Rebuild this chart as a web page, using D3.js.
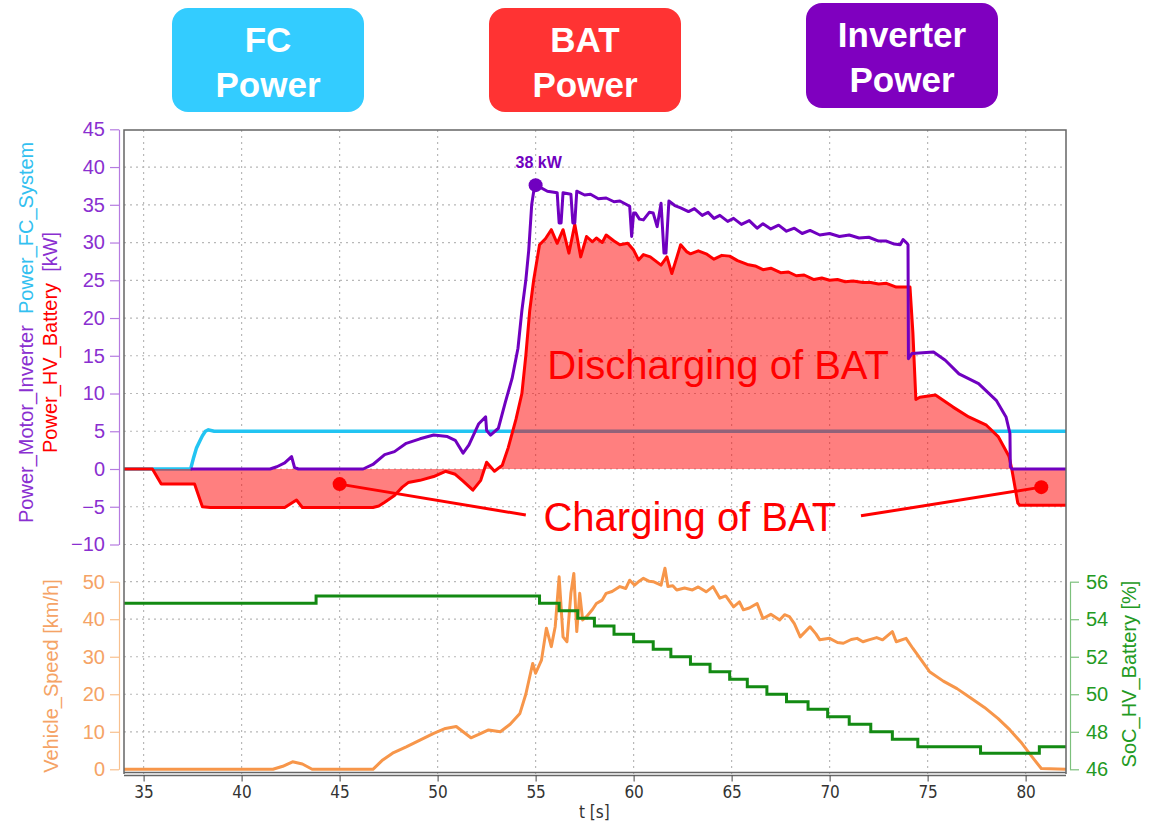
<!DOCTYPE html>
<html>
<head>
<meta charset="utf-8">
<script src="https://cdn.jsdelivr.net/npm/d3@7/dist/d3.min.js"></script>
<style>
  body { margin: 0; background: #fff; }
  svg { font-family: "Liberation Sans", Arial, sans-serif; }
</style>
</head>
<body>
<svg id="chart"></svg>
<script>
// ---- data ----
const timeTicks  = [35, 40, 45, 50, 55, 60, 65, 70, 75, 80];
const powerTicks = [-10, -5, 0, 5, 10, 15, 20, 25, 30, 35, 40, 45];
const speedTicks = [0, 10, 20, 30, 40, 50];
const socTicks   = [46, 48, 50, 52, 54, 56];

// [t (s), kW]
const fcSystem = [[34,0],[37.4,0],[37.55,1.5],[37.7,2.8],[37.85,3.6],[38.0,4.4],[38.15,5.0],[38.3,5.2],[38.6,5.0],[82.06,5.0]];

const hvBattery = [[34,0],[35.45,0],[35.9,-2],[37.6,-2],[38.0,-5],[38.4,-5.1],[42.2,-5.1],[42.5,-4.6],[42.8,-4.1],[43.1,-5.1],
  [46.7,-5.1],[47.0,-4.9],[47.3,-4.4],[47.8,-3.5],[48.2,-2.4],[48.5,-1.8],[49.1,-1.5],[49.8,-1.0],[50.4,-0.3],[50.9,-0.7],
  [51.3,-1.6],[51.8,-2.8],[52.2,-1.5],[52.5,0.9],[52.9,-0.3],[53.3,0.5],[53.6,2.8],[54.0,6.6],[54.3,10],[54.5,15],[54.7,21],
  [54.9,25],[55.2,29.7],[55.5,30.5],[55.8,31.7],[56.1,29.9],[56.4,31.7],[56.7,28.6],[57.0,32.4],[57.3,28.1],[57.6,30.8],
  [57.9,30.1],[58.1,30.6],[58.4,30.0],[58.6,31.0],[59.0,30.2],[59.3,29.7],[59.7,29.9],[60.0,29.0],[60.25,27.7],[60.5,28.4],
  [60.85,28.1],[61.1,27.6],[61.4,27.0],[61.7,28.1],[61.95,25.9],[62.2,28.0],[62.4,29.7],[62.7,28.8],[62.9,28.5],[63.3,28.9],
  [63.7,28.5],[64.1,27.8],[64.5,28.3],[64.9,28.2],[65.3,27.6],[65.8,27.1],[66.2,26.9],[66.6,26.4],[67.0,26.6],[67.5,26.0],
  [67.9,26.1],[68.3,25.6],[68.7,25.7],[69.2,25.1],[69.6,25.3],[70.0,25.0],[70.4,25.1],[70.8,24.8],[71.2,24.9],[71.7,24.7],
  [72.1,24.7],[72.5,24.5],[72.9,24.6],[73.4,24.1],[74.1,24.1],[74.25,18],[74.4,9.2],[74.6,9.5],[75.4,9.8],
  [76.3,8.2],[77.1,6.9],[78.0,5.8],[78.6,4.3],[79.15,1.7],[79.3,-0.1],[79.6,-4.5],[79.7,-4.8],[82.06,-4.8]];

const motorInverter = [[37.4,0],[41.45,0],[41.8,0.3],[42.2,0.8],[42.55,1.65],[42.7,0.2],[42.9,0],[46.2,0],[46.7,0.6],
  [47.3,1.9],[47.8,2.3],[48.4,3.4],[49.1,4.0],[49.8,4.5],[50.5,4.3],[50.9,3.8],[51.3,2.1],[51.6,3.2],[52.1,6.0],[52.45,6.9],
  [52.5,5.1],[52.7,4.5],[53.1,5.4],[53.45,8.8],[53.8,12],[54.1,16],[54.3,21],[54.5,25],[54.65,29],[54.8,35],[54.95,37.6],
  [55.1,37.5],[55.6,36.8],[56.1,36.6],[56.2,32.6],[56.3,32.6],[56.4,36.6],[56.8,36.4],[56.9,32.6],[57.0,32.6],[57.1,36.8],
  [57.5,36.3],[57.8,36.4],[58.2,35.8],[58.6,35.9],[59.0,35.4],[59.3,35.5],[59.8,34.8],[59.9,30.8],[60.0,33.9],[60.1,33.9],
  [60.3,33.1],[60.5,33.0],[60.8,34.0],[61.0,33.9],[61.2,32.1],[61.4,35.2],[61.55,28.6],[61.65,28.6],[61.8,35.5],
  [62.1,34.9],[62.4,34.6],[62.8,34.1],[63.1,34.5],[63.5,33.6],[63.8,34.0],[64.1,33.2],[64.4,33.6],[64.8,32.8],[65.1,33.2],
  [65.5,32.4],[65.9,32.9],[66.3,31.9],[66.6,32.5],[67.0,31.8],[67.4,32.3],[67.8,31.5],[68.2,31.9],[68.6,31.2],[69.0,31.6],
  [69.5,31.0],[70.0,31.2],[70.5,30.8],[71.0,31.0],[71.5,30.6],[72.0,30.7],[72.5,30.2],[72.9,30.2],[73.3,29.8],[73.6,29.7],
  [73.75,30.4],[73.95,29.9],[74.0,29.7],[74.02,14.6],[74.2,15.3],[75.3,15.5],[75.9,14.4],[76.6,12.6],[77.6,11.3],[78.5,9.1],
  [79.0,6.9],[79.2,4.7],[79.22,0.3],[79.3,0],[82.06,0]];

// [t (s), km/h]
const vehicleSpeed = [[34,0],[41.6,0],[42.1,0.8],[42.6,2.0],[43.1,1.4],[43.6,0],[46.7,0],[47.2,2.5],[47.7,4.3],[48.4,6.0],
  [49.1,7.8],[49.8,9.6],[50.4,10.9],[50.95,11.4],[51.3,10.0],[51.7,8.4],[52.1,9.3],[52.6,10.5],[53.2,10.0],[53.7,12.0],
  [54.2,14.9],[54.5,20.0],[54.85,28.2],[55.0,25.6],[55.3,29.1],[55.55,37.6],[55.8,32.7],[56.0,38.0],[56.2,51.3],[56.4,35.3],
  [56.6,34.0],[56.8,46.9],[56.95,52.2],[57.1,36.7],[57.25,46.9],[57.4,39.8],[57.6,40.7],[57.9,42.6],[58.1,44.2],[58.4,45.1],
  [58.6,46.9],[58.9,47.4],[59.3,48.7],[59.6,48.2],[59.8,50.4],[60.05,49.1],[60.3,50.2],[60.5,50.9],[60.8,50.1],[61.0,50.0],
  [61.4,49.1],[61.6,53.6],[61.75,48.7],[62.0,48.9],[62.2,47.8],[62.6,48.3],[63.0,47.8],[63.3,48.6],[63.7,47.3],[64.05,48.7],
  [64.4,45.6],[64.7,46.2],[65.1,43.3],[65.4,44.6],[65.6,42.5],[65.9,43.0],[66.3,44.2],[66.6,40.2],[67.0,41.3],[67.45,39.8],
  [67.7,41.2],[67.95,40.7],[68.2,38.8],[68.5,35.3],[69.0,38.0],[69.3,36.1],[69.5,34.5],[70.0,34.9],[70.4,33.8],[70.7,33.6],
  [71.1,34.6],[71.4,34.9],[71.7,34.0],[72.0,34.5],[72.4,35.1],[72.7,34.5],[73.2,36.7],[73.4,34.0],[73.9,34.9],[74.25,32.2],
  [75.1,26.0],[75.8,23.5],[76.5,21.5],[77.2,19],[77.9,16.5],[78.6,13.5],[79.2,10.5],[79.8,7],[80.3,3.5],[80.8,0.2],[82.06,0]];

// [t (s), %] step changes
const socBattery = [[34,54.85],[43.8,55.24],[55.2,54.85],[56.2,54.45],[57.15,54.05],[58.0,53.64],[59.0,53.2],[60.0,52.8],
  [61.0,52.4],[61.9,52.0],[62.9,51.6],[63.9,51.2],[64.9,50.8],[65.8,50.4],[66.8,50.0],[67.8,49.6],[68.9,49.2],[69.9,48.8],
  [71.0,48.4],[72.1,48.0],[73.2,47.6],[74.5,47.2],[77.7,46.85],[80.7,47.2],[82.06,47.2]];

const headerLabels = [["FC", "Power"], ["BAT", "Power"], ["Inverter", "Power"]];
const peakLabel = "38 kW";
const peakPoint = [55.0, 37.6];
const chargeDots = [[45.0, -2.0], [80.8, -2.4]];

// ---- layout ----
const W = 1156, H = 822;
const plotLeft = 124, plotRight = 1066, plotTop = 130, plotBottom = 774;
const headerBoxes = [
  { x: 172, y: 8, w: 192, h: 104, fill: "#33ccff" },
  { x: 489, y: 8, w: 192, h: 104, fill: "#ff3333" },
  { x: 806, y: 3, w: 192, h: 105, fill: "#7f00bf" }
];
const cPurple = "#7000c0", cPurpleText = "#8a2fd0", cRed = "#ff0000", cCyan = "#22c4f2",
      cOrange = "#f7964a", cOrangeText = "#f5a366", cGreen = "#138a13", cGreenText = "#239a23";
const narrowFont = "'Liberation Sans Narrow', 'Arial Narrow', 'DejaVu Sans Condensed', sans-serif";

const svg = d3.select("#chart").attr("width", W).attr("height", H);

const x = d3.scaleLinear().domain([34, 82.06]).range([plotLeft, plotRight]);
const yP = d3.scaleLinear().domain([-10, 45]).range([544.5, 129.3]);
const yS = d3.scaleLinear().domain([0, 50]).range([769.3, 581.7]);
const yC = d3.scaleLinear().domain([46, 56]).range([769.3, 581.7]);

// grid
const grid = svg.append("g").attr("stroke", "#b8b8b8").attr("stroke-width", 1.2).attr("stroke-dasharray", "2,4");
grid.selectAll(".gx").data(timeTicks).join("line")
  .attr("x1", d => x(d)).attr("x2", d => x(d)).attr("y1", plotTop).attr("y2", plotBottom);
grid.selectAll(".gp").data(powerTicks.filter(d => d < 45)).join("line").attr("class", "gp")
  .attr("x1", plotLeft).attr("x2", plotRight).attr("y1", d => yP(d)).attr("y2", d => yP(d));
grid.selectAll(".gs").data(speedTicks.filter(d => d > 0)).join("line").attr("class", "gs")
  .attr("x1", plotLeft).attr("x2", plotRight).attr("y1", d => yS(d)).attr("y2", d => yS(d));

// power panel
const lineP = d3.line().x(d => x(d[0])).y(d => yP(d[1]));
svg.append("path").datum(fcSystem).attr("fill", "none").attr("stroke", cCyan).attr("stroke-width", 3.5).attr("d", lineP);
svg.append("path").datum(hvBattery).attr("fill", cRed).attr("fill-opacity", 0.5)
  .attr("d", d3.area().x(d => x(d[0])).y0(yP(0)).y1(d => yP(d[1])));
svg.append("path").datum(hvBattery).attr("fill", "none").attr("stroke", cRed).attr("stroke-width", 3)
  .attr("stroke-linejoin", "round").attr("d", lineP);
svg.append("path").datum(motorInverter).attr("fill", "none").attr("stroke", cPurple).attr("stroke-width", 3)
  .attr("stroke-linejoin", "round").attr("d", lineP);

// speed / soc panel
svg.append("path").datum(vehicleSpeed).attr("fill", "none").attr("stroke", cOrange).attr("stroke-width", 3)
  .attr("stroke-linejoin", "round").attr("d", d3.line().x(d => x(d[0])).y(d => yS(d[1])));
svg.append("path").datum(socBattery).attr("fill", "none").attr("stroke", cGreen).attr("stroke-width", 3)
  .attr("d", d3.line().curve(d3.curveStepAfter).x(d => x(d[0])).y(d => yC(d[1])));

// frame
const frame = svg.append("g").attr("fill", "none").attr("stroke", "#666").attr("stroke-width", 1.5);
frame.append("path").attr("d", `M${plotLeft},${plotBottom}V${plotTop}H${plotRight}V${plotBottom}`);
frame.append("line").attr("x1", plotLeft).attr("x2", plotRight).attr("y1", plotBottom - 1.5).attr("y2", plotBottom - 1.5);
frame.append("line").attr("x1", plotLeft).attr("x2", plotRight).attr("y1", plotBottom + 1.5).attr("y2", plotBottom + 1.5);

// axes
function styleAxis(g, color, textColor, size) {
  g.selectAll("path, line").attr("stroke", color).attr("stroke-width", 1.2);
  g.selectAll("text").attr("fill", textColor).style("font-size", size + "px")
    .style("font-family", "'Liberation Sans', Arial, sans-serif");
}
svg.append("g").attr("transform", "translate(119,0)")
  .call(d3.axisLeft(yP).tickValues(powerTicks).tickSize(9).tickSizeOuter(0).tickPadding(5))
  .call(g => styleAxis(g, "#b57be0", cPurpleText, 20));
svg.append("g").attr("transform", "translate(119,0)")
  .call(d3.axisLeft(yS).tickValues(speedTicks).tickSize(9).tickSizeOuter(0).tickPadding(5))
  .call(g => styleAxis(g, "#f8c08e", cOrangeText, 20));
svg.append("g").attr("transform", "translate(1070,0)")
  .call(d3.axisRight(yC).tickValues(socTicks).tickSize(9).tickSizeOuter(0).tickPadding(7))
  .call(g => styleAxis(g, "#7cc07c", cGreenText, 20));
svg.append("g").attr("transform", `translate(0,${plotBottom + 1.5})`)
  .call(d3.axisBottom(x).tickValues(timeTicks).tickSize(6).tickSizeOuter(0).tickPadding(4))
  .call(g => g.select(".domain").remove())
  .call(g => g.selectAll("line").attr("stroke", "#444"))
  .call(g => g.selectAll("text").attr("fill", "#333").style("font-size", "17px").style("font-family", narrowFont));

svg.append("text").attr("x", x(58)).attr("y", 818).attr("text-anchor", "middle").attr("fill", "#333")
  .style("font-size", "17px").style("font-family", narrowFont).text("t [s]");

// axis titles
const t1 = svg.append("text").attr("transform", "translate(33,523) rotate(-90)").style("font-size", "20px");
t1.append("tspan").attr("fill", cPurpleText).text("Power_Motor_Inverter");
t1.append("tspan").attr("fill", "#33c0f0").text("\u00a0\u00a0Power_FC_System");
const t2 = svg.append("text").attr("transform", "translate(57,453) rotate(-90)").style("font-size", "20px");
t2.append("tspan").attr("fill", cRed).text("Power_HV_Battery");
t2.append("tspan").attr("fill", cPurpleText).text("\u00a0\u00a0[kW]");
svg.append("text").attr("transform", "translate(58,676) rotate(-90)").attr("text-anchor", "middle")
  .attr("fill", cOrangeText).style("font-size", "20px").text("Vehicle_Speed [km/h]");
svg.append("text").attr("transform", "translate(1136,674) rotate(-90)").attr("text-anchor", "middle")
  .attr("fill", cGreenText).style("font-size", "20px").text("SoC_HV_Battery [%]");

// annotations
svg.append("circle").attr("cx", x(peakPoint[0])).attr("cy", yP(peakPoint[1])).attr("r", 7).attr("fill", cPurple);
svg.append("text").attr("x", x(peakPoint[0]) + 3).attr("y", 168).attr("text-anchor", "middle")
  .attr("fill", cPurple).style("font-size", "16px").style("font-weight", "bold").text(peakLabel);

svg.append("text").attr("x", x(55.6)).attr("y", yP(11.9)).attr("fill", cRed).style("font-size", "40px")
  .text("Discharging of BAT");
svg.append("text").attr("x", x(55.4)).attr("y", yP(-8.2)).attr("fill", cRed).style("font-size", "40px")
  .text("Charging of BAT");
svg.append("line").attr("x1", x(chargeDots[0][0])).attr("y1", yP(chargeDots[0][1]))
  .attr("x2", x(54.5)).attr("y2", yP(-6.1)).attr("stroke", cRed).attr("stroke-width", 3);
svg.append("line").attr("x1", x(71.6)).attr("y1", yP(-6.2))
  .attr("x2", x(chargeDots[1][0])).attr("y2", yP(chargeDots[1][1])).attr("stroke", cRed).attr("stroke-width", 3);
svg.selectAll(".cdot").data(chargeDots).join("circle")
  .attr("cx", d => x(d[0])).attr("cy", d => yP(d[1])).attr("r", 7).attr("fill", cRed);

// header boxes
const hb = svg.selectAll(".hb").data(headerBoxes).join("g").attr("transform", d => `translate(${d.x},${d.y})`);
hb.append("rect").attr("width", d => d.w).attr("height", d => d.h).attr("rx", 16).attr("fill", d => d.fill);
hb.each(function (d, i) {
  const g = d3.select(this);
  headerLabels[i].forEach((s, k) => {
    g.append("text").attr("x", d.w / 2).attr("y", 44 + k * 45).attr("text-anchor", "middle")
      .attr("fill", "#fff").style("font-size", "35px").style("font-weight", "bold").text(s);
  });
});
</script>
</body>
</html>
